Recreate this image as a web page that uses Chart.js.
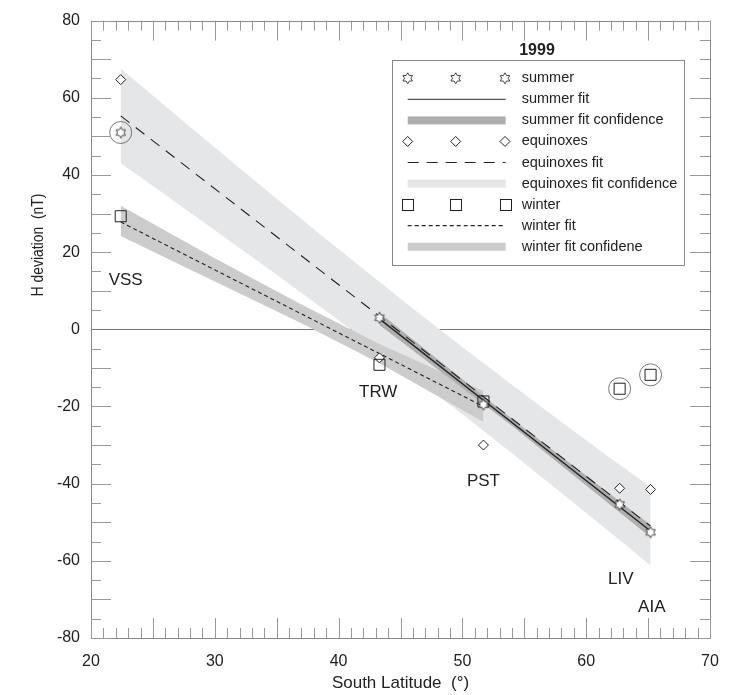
<!DOCTYPE html>
<html><head><meta charset="utf-8">
<script src="https://cdn.jsdelivr.net/npm/chart.js@4"></script>
<style>html,body{margin:0;padding:0;background:#fff}</style>
</head><body>
<canvas id="c" width="739" height="695"></canvas>
<script>
// ---------------- data ----------------
const stations   = ['VSS', 'TRW', 'PST', 'LIV', 'AIA'];
const latitudes  = [22.4, 43.3, 51.7, 62.7, 65.2];
const summerH    = [51.0, 3.0, -19.5, -45.4, -52.6];
const equinoxH   = [64.7, -7.4, -30.0, -41.2, -41.5];
const winterH    = [29.3, -9.2, -18.7, -15.4, -11.8];
const circledSummer = ['VSS'];
const circledWinter = ['LIV', 'AIA'];

const summerFitX = [43.3, 65.2];
const summerFitY = [2.7, -52.3];
const equinoxFitX = [22.4, 65.2];
const equinoxFitY = [55.3, -51.0];
const winterFitX = [22.4, 51.7];
const winterFitY = [27.8, -20.0];

const summerBandX     = [43.3, 54.0, 65.2];
const summerBandUpper = [4.3, -23.2, -50.7];
const summerBandLower = [1.1, -25.0, -53.9];

const equinoxBandX     = [22.4, 26, 30, 34, 38, 42, 46, 50, 54, 58, 62, 65.2];
const equinoxBandUpper = [67.6, 57.9, 47.1, 36.5, 25.9, 15.6, 5.4, -4.6, -14.4, -24.0, -33.5, -40.9];
const equinoxBandLower = [43.0, 34.9, 25.7, 16.5, 7.1, -2.4, -12.1, -22.0, -32.1, -42.4, -52.8, -61.2];

const winterBandX     = [22.4, 30.0, 37.0, 43.3, 51.7];
const winterBandUpper = [32.0, 18.4, 6.4, -3.8, -16.0];
const winterBandLower = [24.2, 12.4, 1.6, -8.8, -24.0];

const xTicks = [20, 30, 40, 50, 60, 70];
const yTicks = [-80, -60, -40, -20, 0, 20, 40, 60, 80];

const stationLabelX = [22.8, 43.2, 51.7, 62.8, 65.3];
const stationLabelY = [12.8, -16.4, -39.4, -64.7, -72.0];

const legendItems = ['summer', 'summer fit', 'summer fit confidence', 'equinoxes', 'equinoxes fit',
  'equinoxes fit confidence', 'winter', 'winter fit', 'winter fit confidene'];

// ---------------- helpers ----------------
const FONT = '"Liberation Sans", Arial, Helvetica, sans-serif';
const pts = (xs, ys) => xs.map((x, i) => ({x: x, y: ys[i]}));
function starPath(g, cx, cy, R) {
  const r = R / Math.sqrt(3);
  g.beginPath();
  for (let i = 0; i < 12; i++) {
    const a = -Math.PI / 2 + i * Math.PI / 6;
    const rr = i % 2 === 0 ? R : r;
    const px = cx + rr * Math.cos(a), py = cy + rr * Math.sin(a);
    if (i) g.lineTo(px, py); else g.moveTo(px, py);
  }
  g.closePath();
  g.fillStyle = '#fff'; g.fill();
  g.strokeStyle = '#333'; g.lineWidth = 0.9; g.stroke();
}
const STAR = (() => { const c = document.createElement('canvas'); c.width = 16; c.height = 16;
  starPath(c.getContext('2d'), 8, 8, 5.5); return c; })();

const C_EQ = '#e5e6e8', C_WI = '#cccccc', C_SU = '#afafaf';

const datasets = [
  // bands (drawn first)
  {data: pts(equinoxBandX, equinoxBandLower), borderColor: 'transparent', borderWidth: 0, pointRadius: 0, fill: false, order: 30},
  {data: pts(equinoxBandX, equinoxBandUpper), borderColor: 'transparent', borderWidth: 0, pointRadius: 0, fill: {target: 0}, backgroundColor: C_EQ, order: 29},
  {data: pts(winterBandX, winterBandLower), borderColor: 'transparent', borderWidth: 0, pointRadius: 0, fill: false, order: 28},
  {data: pts(winterBandX, winterBandUpper), borderColor: 'transparent', borderWidth: 0, pointRadius: 0, fill: {target: 2}, backgroundColor: C_WI, order: 27},
  {data: pts(summerBandX, summerBandLower), borderColor: 'transparent', borderWidth: 0, pointRadius: 0, fill: false, order: 26},
  {data: pts(summerBandX, summerBandUpper), borderColor: 'transparent', borderWidth: 0, pointRadius: 0, fill: {target: 4}, backgroundColor: C_SU, order: 25},
  // fit lines
  {data: pts(equinoxFitX, equinoxFitY), borderColor: '#222', borderWidth: 1.1, borderDash: [11, 8], pointRadius: 0, fill: false, order: 12},
  {data: pts(winterFitX, winterFitY), borderColor: '#222', borderWidth: 1.1, borderDash: [4, 3], pointRadius: 0, fill: false, order: 11},
  {data: pts(summerFitX, summerFitY), borderColor: '#222', borderWidth: 1.3, pointRadius: 0, fill: false, order: 10},
  // markers
  {data: pts(latitudes, equinoxH), showLine: false, pointStyle: 'rectRot', pointRadius: 5, borderColor: '#222', borderWidth: 1, backgroundColor: '#fff', order: 5},
  {data: pts(latitudes, winterH), showLine: false, pointStyle: 'rect', pointRadius: 7.8, borderColor: '#222', borderWidth: 1, backgroundColor: 'rgba(255,255,255,0)', order: 4},
  {data: pts(latitudes, summerH), showLine: false, pointStyle: STAR, pointRadius: 6, order: 3},
  // circles round the excluded points
  {data: pts(circledSummer.map(s => latitudes[stations.indexOf(s)]), circledSummer.map(s => summerH[stations.indexOf(s)]))
      .concat(pts(circledWinter.map(s => latitudes[stations.indexOf(s)]), circledWinter.map(s => winterH[stations.indexOf(s)]))),
   showLine: false, pointStyle: 'circle', pointRadius: 11, borderColor: '#555', borderWidth: 0.8, backgroundColor: 'rgba(0,0,0,0)', order: 2}
];

// ---------------- custom drawing ----------------
const decor = {
  id: 'decor',
  afterDraw(chart) {
    const g = chart.ctx, xs = chart.scales.x, ys = chart.scales.y, a = chart.chartArea;
    g.save();
    // frame
    g.strokeStyle = '#888'; g.lineWidth = 1;
    g.strokeRect(Math.round(a.left) + 0.5, Math.round(a.top) + 0.5, Math.round(a.right - a.left), Math.round(a.bottom - a.top));
    // ticks
    g.strokeStyle = '#999'; g.lineWidth = 1;
    g.beginPath();
    for (let v = 20; v <= 70; v += 1) {
      const px = Math.round(xs.getPixelForValue(v)) + 0.5;
      const L = v % 5 === 0 ? 20 : 10;
      g.moveTo(px, a.bottom); g.lineTo(px, a.bottom - L);
      g.moveTo(px, a.top); g.lineTo(px, a.top + L);
    }
    for (let v = -80; v <= 80; v += 5) {
      if (v === 0) continue;
      const py = Math.round(ys.getPixelForValue(v)) + 0.5;
      const L = v % 10 === 0 ? 20 : 10;
      const R = v % 20 === 0 ? 20 : 10;
      g.moveTo(a.left, py); g.lineTo(a.left + L, py);
      g.moveTo(a.right, py); g.lineTo(a.right - R, py);
    }
    g.stroke();
    // station labels
    g.fillStyle = '#222'; g.font = '17px ' + FONT; g.textAlign = 'center'; g.textBaseline = 'middle';
    stations.forEach((s, i) => g.fillText(s, xs.getPixelForValue(stationLabelX[i]), ys.getPixelForValue(stationLabelY[i])));
    // axis titles
    g.font = '17px ' + FONT;
    g.fillText('South Latitude  (°)', (a.left + a.right) / 2, 683);
    g.save(); g.translate(39, 245); g.rotate(-Math.PI / 2); g.scale(0.87, 1);
    g.font = '16px ' + FONT; g.fillText('H deviation  (nT)', 0, 0); g.restore();
    // title
    g.font = 'bold 16px ' + FONT; g.fillText('1999', 537, 51);
    // legend
    const L0 = 392.5, T0 = 60.5, W = 292, H = 205;
    g.fillStyle = '#fff'; g.fillRect(L0, T0, W, H);
    g.strokeStyle = '#888'; g.lineWidth = 1; g.strokeRect(L0, T0, W, H);
    const rowY = i => 78.3 + i * 21.05;
    const mx = [407.7, 455.7, 505], lx0 = 407.7, lx1 = 505.7;
    legendItems.forEach((t, i) => {
      const y = rowY(i);
      const kind = i % 3, ser = Math.floor(i / 3);
      if (kind === 0) {
        mx.forEach(x => {
          if (ser === 0) { starPath(g, x, y, 5.5); }
          else if (ser === 1) { g.beginPath(); g.moveTo(x - 5, y); g.lineTo(x, y - 5); g.lineTo(x + 5, y); g.lineTo(x, y + 5); g.closePath();
            g.fillStyle = '#fff'; g.fill(); g.strokeStyle = '#222'; g.lineWidth = 1; g.stroke(); }
          else { g.strokeStyle = '#222'; g.lineWidth = 1; g.strokeRect(Math.round(x - 5.5) + 0.5, Math.round(y - 5.5) + 0.5, 11, 11); }
        });
      } else if (kind === 1) {
        g.strokeStyle = ser === 0 ? '#555' : '#222'; g.lineWidth = ser === 0 ? 1.3 : 1.1;
        g.setLineDash(ser === 0 ? [] : ser === 1 ? [11, 8] : [4, 3]);
        g.beginPath(); g.moveTo(lx0, y); g.lineTo(lx1, y); g.stroke(); g.setLineDash([]);
      } else {
        g.fillStyle = ser === 0 ? C_SU : ser === 1 ? C_EQ : C_WI;
        g.fillRect(lx0, y - 4, lx1 - lx0, 8);
      }
      g.fillStyle = '#222'; g.font = '14.5px ' + FONT; g.textAlign = 'left'; g.textBaseline = 'middle';
      g.fillText(t, 521.7, y);
    });
    g.restore();
  }
};

new Chart(document.getElementById('c'), {
  type: 'line',
  data: {datasets: datasets},
  options: {
    responsive: false, animation: false, devicePixelRatio: 1,
    layout: {padding: {top: 19, right: 29, left: 0, bottom: 0}},
    elements: {line: {tension: 0}},
    plugins: {legend: {display: false}, tooltip: {enabled: false}, filler: {propagate: false}},
    scales: {
      x: {type: 'linear', min: 20, max: 70,
          afterBuildTicks: s => { s.ticks = xTicks.map(v => ({value: v})); },
          ticks: {color: '#222', font: {family: FONT, size: 16}, padding: 14, maxRotation: 0},
          grid: {display: false, drawTicks: false}, border: {display: false},
          afterFit: s => { s.height = 57; }},
      y: {type: 'linear', min: -80, max: 80,
          afterBuildTicks: s => { s.ticks = yTicks.map(v => ({value: v})); },
          ticks: {color: '#222', font: {family: FONT, size: 16}, padding: 11},
          grid: {drawTicks: false, lineWidth: 1, color: c => (c.tick && c.tick.value === 0) ? '#777' : 'rgba(0,0,0,0)'},
          border: {display: false},
          afterFit: s => { s.width = 91; }}
    }
  },
  plugins: [decor]
});
</script>
</body></html>
